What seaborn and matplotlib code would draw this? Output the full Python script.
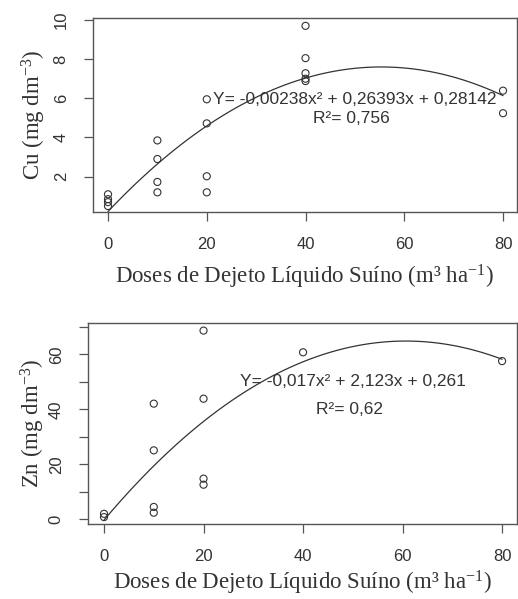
import numpy as np
import pandas as pd
import seaborn as sns
import matplotlib.pyplot as plt

cu_dose = [0, 0, 0, 0, 10, 10, 10, 10, 20, 20, 20, 20, 40, 40, 40, 40, 40, 80, 80]
cu_val = [1.1, 0.85, 0.7, 0.5, 3.85, 2.9, 1.73, 1.2, 5.95, 4.72, 2.02, 1.2,
          9.7, 8.05, 7.28, 7.0, 6.88, 6.39, 5.24]

zn_dose = [0, 0, 10, 10, 10, 10, 20, 20, 20, 20, 40, 80]
zn_val = [2.0, 0.8, 42.1, 25.1, 4.5, 2.4, 68.7, 43.9, 14.8, 12.6, 60.8, 57.6]

cu_eq = "Y= -0,00238x² + 0,26393x + 0,28142"
cu_r2 = "R²= 0,756"
zn_eq = "Y= -0,017x² + 2,123x + 0,261"
zn_r2 = "R²= 0,62"

xlab = "Doses de Dejeto Líquido Suíno (m³ ha$^{-1}$)"
cu_lab = "Cu (mg dm$^{-3}$)"
zn_lab = "Zn (mg dm$^{-3}$)"

df_cu = pd.DataFrame({'dose': cu_dose, 'val': cu_val})
df_zn = pd.DataFrame({'dose': zn_dose, 'val': zn_val})

sns.set_style("ticks")
plt.rcParams['font.family'] = ['Liberation Sans', 'DejaVu Sans']
plt.rcParams['mathtext.fontset'] = 'custom'
plt.rcParams['mathtext.rm'] = 'Liberation Serif'
plt.rcParams['mathtext.default'] = 'rm'
serif = ['Liberation Serif', 'DejaVu Serif']

ink = '#333333'
frame = '#555555'

W, H = 518, 599
fig = plt.figure(figsize=(W / 100, H / 100), dpi=100)


def px_axes(l, t, r, b):
    return fig.add_axes([l / W, 1 - b / H, (r - l) / W, (b - t) / H])


ax1 = px_axes(93, 18, 516.5, 212.3)
ax2 = px_axes(88, 322.7, 516.5, 524.3)


def draw(ax, df, eq, r2, ylab, xlim, ylim, yticks, ylabels, eq_y, r2_y,
         xpad, ypad):
    sns.regplot(data=df, x='dose', y='val', order=2, ci=None, ax=ax,
                scatter=False, line_kws={'color': ink, 'lw': 0.9})
    sns.scatterplot(data=df, x='dose', y='val', ax=ax, marker='o', s=26,
                    facecolor='none', edgecolor=ink, linewidth=0.8)
    ax.set_xlim(*xlim)
    ax.set_ylim(*ylim)
    ax.set_xticks([0, 20, 40, 60, 80])
    ax.set_yticks(yticks)
    ax.set_yticklabels(ylabels, rotation=90, va='center')
    ax.tick_params(direction='out', length=6.5, width=0.9, color=frame,
                   labelsize=12, labelcolor=ink, pad=11)
    for s in ax.spines.values():
        s.set_visible(True)
        s.set_color(frame)
        s.set_linewidth(1.0)
    ax.set_xlabel(xlab, family=serif, fontsize=16.5, color=ink, labelpad=xpad)
    ax.set_ylabel(ylab, family=serif, fontsize=16.5, color=ink, labelpad=ypad)
    ax.text(50, eq_y, eq, ha='center', va='center', fontsize=12.5, color=ink)
    ax.text(49.3, r2_y, r2, ha='center', va='center', fontsize=12.5, color=ink)


draw(ax1, df_cu, cu_eq, cu_r2, cu_lab, (-3.04, 82.73), (0.18, 10.1),
     [2, 4, 6, 8, 10], ['2', '4', '6', '8', '10'], 5.95, 4.98, 8, 4)
draw(ax2, df_zn, zn_eq, zn_r2, zn_lab, (-3.22, 82.9), (-1.82, 71.57),
     list(range(0, 80, 10)), ['0', '', '20', '', '40', '', '60', ''], 50.1, 39.8,
     4, 1)

fig.savefig('out.png', dpi=100, facecolor='white')
